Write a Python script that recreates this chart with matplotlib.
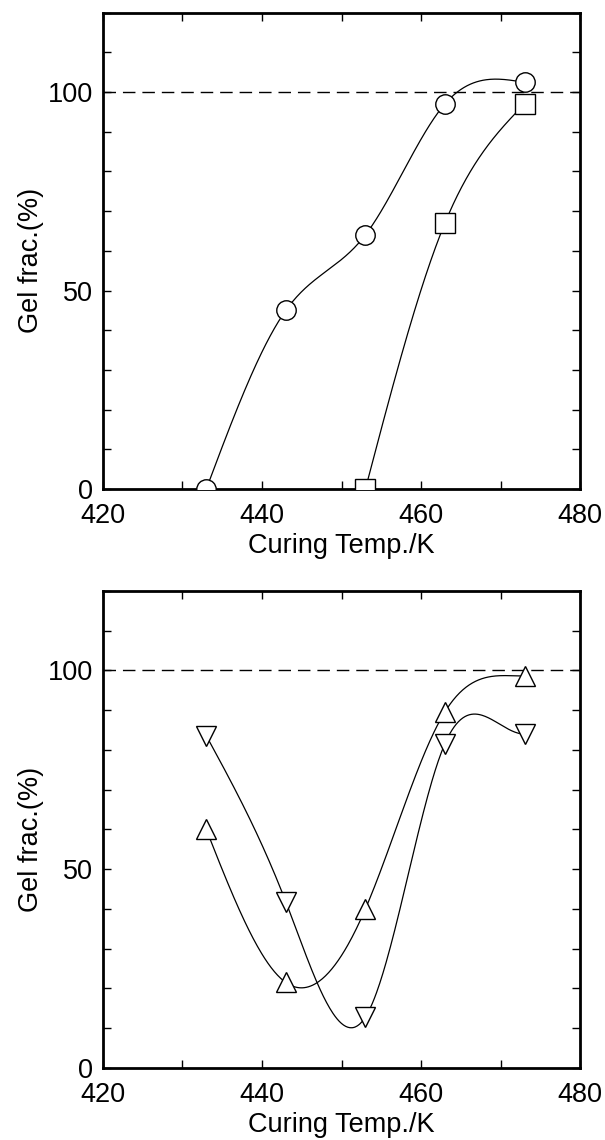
import numpy as np
import matplotlib
matplotlib.use("Agg")
import matplotlib.pyplot as plt
from matplotlib.ticker import MultipleLocator

plt.rcParams['font.family'] = ['Liberation Sans', 'DejaVu Sans']

# curing temperatures (K)
temp = [433, 443, 453, 463, 473]

# top panel
circle_gel = [0, 45, 64, 97, 102.4]
square_temp = [453, 463, 473]
square_gel = [0, 67, 97]

# bottom panel
up_gel = [60, 21.5, 40, 89.6, 98.6]
down_gel = [83.6, 41.8, 12.8, 81.6, 84]


def smooth(x, y, end_slope=None, n=300):
    # cubic spline through the points (natural, or clamped at the right end),
    # used only to draw the connecting line
    x = np.asarray(x, float)
    y = np.asarray(y, float)
    k = len(x)
    h = np.diff(x)
    A = np.zeros((k, k))
    b = np.zeros(k)
    A[0, 0] = 1
    if end_slope is None:
        A[-1, -1] = 1
    else:
        A[-1, -2] = h[-1]
        A[-1, -1] = 2 * h[-1]
        b[-1] = 6 * (end_slope - (y[-1] - y[-2]) / h[-1])
    for i in range(1, k - 1):
        A[i, i - 1] = h[i - 1]
        A[i, i] = 2 * (h[i - 1] + h[i])
        A[i, i + 1] = h[i]
        b[i] = 6 * ((y[i + 1] - y[i]) / h[i] - (y[i] - y[i - 1]) / h[i - 1])
    M = np.linalg.solve(A, b)
    xs = np.linspace(x[0], x[-1], n)
    idx = np.clip(np.searchsorted(x, xs) - 1, 0, k - 2)
    x0, x1 = x[idx], x[idx + 1]
    hh = x1 - x0
    t0, t1 = x1 - xs, xs - x0
    ys = (M[idx] * t0 ** 3 / (6 * hh) + M[idx + 1] * t1 ** 3 / (6 * hh)
          + (y[idx] / hh - M[idx] * hh / 6) * t0
          + (y[idx + 1] / hh - M[idx + 1] * hh / 6) * t1)
    return xs, ys


fig = plt.figure(figsize=(6.05, 11.4), dpi=100)
ax1 = fig.add_axes([0.170, 0.571, 0.789, 0.418])
ax2 = fig.add_axes([0.170, 0.0632, 0.789, 0.4184])

mk = dict(markersize=14, markerfacecolor='white', markeredgecolor='black',
          markeredgewidth=1.0, linestyle='none', zorder=3)


def series(ax, x, y, marker, end_slope=None):
    xs, ys = smooth(x, y, end_slope)
    ax.plot(xs, ys, color='black', linewidth=0.9, zorder=2)
    ax.plot(x, y, marker=marker, **mk)


series(ax1, temp, circle_gel, 'o')
series(ax1, square_temp, square_gel, 's')
series(ax2, temp, up_gel, '^', end_slope=0)
series(ax2, temp, down_gel, 'v', end_slope=0)

for ax in (ax1, ax2):
    ax.axhline(100, color='black', linewidth=1.0, dashes=(9, 5), zorder=1)
    ax.set_xlim(420, 480)
    ax.set_ylim(0, 120)
    ax.xaxis.set_major_locator(MultipleLocator(20))
    ax.xaxis.set_minor_locator(MultipleLocator(10))
    ax.yaxis.set_major_locator(MultipleLocator(50))
    ax.yaxis.set_minor_locator(MultipleLocator(10))
    ax.tick_params(which='both', direction='in', top=True, right=True,
                   length=6, width=1.0, labelsize=19.5)
    ax.tick_params(axis='x', pad=10)
    ax.tick_params(axis='y', pad=7)
    for s in ax.spines.values():
        s.set_linewidth(2.0)
    ax.set_xlabel('Curing Temp./K', fontsize=19.5, labelpad=3)
    ax.set_ylabel('Gel frac.(%)', fontsize=19.5)
    ax.yaxis.set_label_coords(-0.124, 0.48)

fig.savefig('out.png', dpi=100)
